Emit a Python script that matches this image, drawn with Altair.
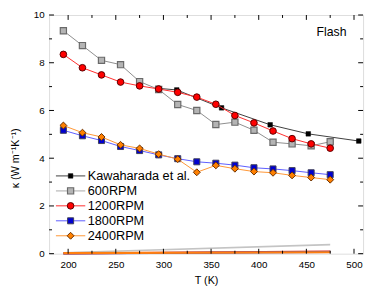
import altair as alt
import pandas as pd

# ---------------- data ----------------
T = [195, 215, 235, 255, 275, 295, 315, 335, 355, 375, 395, 415, 435, 455, 475]
k600 = [9.34, 8.72, 8.10, 7.92, 7.21, 6.88, 6.25, 6.00, 5.41, 5.51, 5.17, 4.67, 4.60, 4.52, 4.69]
k1200 = [8.35, 7.79, 7.49, 7.19, 7.03, 6.90, 6.76, 6.56, 6.26, 5.79, 5.48, 5.14, 4.82, 4.60, 4.42]
k1800 = [5.17, 4.94, 4.74, 4.49, 4.32, 4.14, 3.98, 3.85, 3.79, 3.71, 3.60, 3.55, 3.48, 3.39, 3.31]
k2400 = [5.37, 5.07, 4.89, 4.56, 4.41, 4.17, 3.96, 3.41, 3.70, 3.56, 3.44, 3.39, 3.28, 3.19, 3.10]

T_kaw = [294, 314, 361, 412, 452, 505]
k_kaw = [6.93, 6.86, 6.11, 5.40, 5.02, 4.72]

# low (electronic) contributions, end points
T_el = [195, 475]
el600 = [0.04, 0.38]
el1200 = [0.01, 0.09]
el1800 = [0.01, 0.07]
el2400 = [0.02, 0.06]

series_names = ["Kawaharada et al.", "600RPM", "1200RPM", "1800RPM", "2400RPM"]
x_major = [200, 250, 300, 350, 400, 450, 500]
x_minor = [225, 275, 325, 375, 425, 475]
y_major = [0, 2, 4, 6, 8, 10]
y_minor = [1, 3, 5, 7, 9]

# ---------------- layout / style ----------------
W, H = 321, 244
XD = [180, 509.5]
YD = [0, 10]
FONT = "Liberation Sans"

styles = {
    "Kawaharada et al.": dict(line="#3c3c3c", lw=1.0, shape="square", fill="#000000", stroke="#000000", size=22, sw=0.5),
    "600RPM": dict(line="#8c8c8c", lw=1.0, shape="square", fill="#b4b4b4", stroke="#6a6a6a", size=40, sw=1.2),
    "1200RPM": dict(line="#ff2a2a", lw=1.0, shape="circle", fill="#ff0000", stroke="#5a0000", size=46, sw=1.0),
    "1800RPM": dict(line="#5b5bff", lw=1.0, shape="square", fill="#0000d0", stroke="#40405a", size=38, sw=1.0),
    "2400RPM": dict(line="#ff9633", lw=1.0, shape="diamond", fill="#ff8000", stroke="#6a3000", size=50, sw=1.0),
}

xs = alt.Scale(domain=XD, nice=False, zero=False)
ys = alt.Scale(domain=YD, nice=False, zero=False)


def px2x(px):
    return XD[0] + px / W * (XD[1] - XD[0])


def py2y(py):
    return YD[1] - py / H * (YD[1] - YD[0])


def xenc(field="T"):
    return alt.X(f"{field}:Q", scale=xs,
                 axis=alt.Axis(values=x_major, title="T (K)", grid=False, ticks=False, domain=False,
                               labelPadding=6, titleY=22, titleBaseline="top", labelFlush=False,
                               titleFontWeight="normal"))


def yenc(field="k"):
    return alt.Y(f"{field}:Q", scale=ys,
                 axis=alt.Axis(values=y_major, title="κ (W m⁻¹K⁻¹)", grid=False, ticks=False, domain=False,
                               labelPadding=5, titleX=-34, titleY=146, titleBaseline="middle",
                               labelFlush=False, titleFontWeight="normal"))


layers = []


def add_series(name, tt, kk):
    st = styles[name]
    df = pd.DataFrame({"T": tt, "k": kk})
    layers.append(alt.Chart(df).mark_line(color=st["line"], strokeWidth=st["lw"]).encode(x=xenc(), y=yenc()))
    layers.append(alt.Chart(df).mark_point(
        shape=st["shape"], filled=True, fill=st["fill"], stroke=st["stroke"],
        strokeWidth=st["sw"], size=st["size"], opacity=1).encode(x=xenc(), y=yenc()))


# low lines first
for name, ee, lw, col in [("600RPM", el600, 1.6, "#c4c4c4"), ("1200RPM", el1200, 2.0, "#d02020"),
                          ("1800RPM", el1800, 2.0, "#5050c0"), ("2400RPM", el2400, 2.2, "#ff7f10")]:
    df = pd.DataFrame({"T": T_el, "k": ee})
    layers.append(alt.Chart(df).mark_line(color=col, strokeWidth=lw).encode(x=xenc(), y=yenc()))

add_series("Kawaharada et al.", T_kaw, k_kaw)
add_series("600RPM", T, k600)
add_series("1200RPM", T, k1200)
add_series("1800RPM", T, k1800)
add_series("2400RPM", T, k2400)

# ---------------- manual legend ----------------
LEG_X0, LEG_X1, LEG_XM, LEG_XT = 7, 37, 22, 39.5
LEG_Y0, LEG_DY = 164.5, 15.3
for i, name in enumerate(series_names):
    st = styles[name]
    yy = py2y(LEG_Y0 + i * LEG_DY)
    lc = "#c8c8c8" if name == "600RPM" else st["line"]
    lw = 1.6 if name == "600RPM" else 1.0
    ldf = pd.DataFrame({"T": [px2x(LEG_X0), px2x(LEG_X1)], "k": [yy, yy]})
    layers.append(alt.Chart(ldf).mark_line(color=lc, strokeWidth=lw).encode(x=xenc(), y=yenc()))
    pdf = pd.DataFrame({"T": [px2x(LEG_XM)], "k": [yy], "lab": [name]})
    layers.append(alt.Chart(pdf).mark_point(
        shape=st["shape"], filled=True, fill=st["fill"], stroke=st["stroke"],
        strokeWidth=st["sw"], size=st["size"], opacity=1).encode(x=xenc(), y=yenc()))
    tdf = pd.DataFrame({"T": [px2x(LEG_XT)], "k": [yy], "lab": [name]})
    layers.append(alt.Chart(tdf).mark_text(align="left", baseline="middle", font=FONT, fontSize=13,
                                           color="black").encode(x=xenc(), y=yenc(), text="lab:N"))

# annotation
ann = pd.DataFrame({"txt": ["Flash"]})
layers.append(alt.Chart(ann).mark_text(align="right", baseline="middle", font=FONT, fontSize=12.5,
                                       color="black").encode(x=alt.value(304), y=alt.value(17), text="txt:N"))

# ---------------- inward ticks ----------------
MAJ, MIN = 5, 3
xmaj = pd.DataFrame({"T": x_major})
xmin = pd.DataFrame({"T": x_minor})
ymaj = pd.DataFrame({"k": y_major})
ymin = pd.DataFrame({"k": y_minor})
for df, L in [(xmaj, MAJ), (xmin, MIN)]:
    layers.append(alt.Chart(df).mark_rule(color="black", strokeWidth=1).encode(
        x=xenc(), y=alt.value(H), y2=alt.value(H - L)))
    layers.append(alt.Chart(df).mark_rule(color="black", strokeWidth=1).encode(
        x=xenc(), y=alt.value(0), y2=alt.value(L)))
for df, L in [(ymaj, MAJ), (ymin, MIN)]:
    layers.append(alt.Chart(df).mark_rule(color="black", strokeWidth=1).encode(
        y=yenc(), x=alt.value(0), x2=alt.value(L)))
    layers.append(alt.Chart(df).mark_rule(color="black", strokeWidth=1).encode(
        y=yenc(), x=alt.value(W), x2=alt.value(W - L)))

chart = alt.layer(*layers).properties(
    width=W, height=H,
    autosize=alt.AutoSizeParams(type="none"),
    padding={"left": 42, "top": 4, "right": 3, "bottom": 35},
).configure_view(stroke="black", strokeWidth=1).configure_axis(
    labelFont=FONT, titleFont=FONT, labelFontSize=12.5, titleFontSize=12.5,
    labelColor="black", titleColor="black", titleFontWeight="normal",
).configure(background="white")

chart.save("out.html", embed_options={"renderer": "svg", "actions": False})
